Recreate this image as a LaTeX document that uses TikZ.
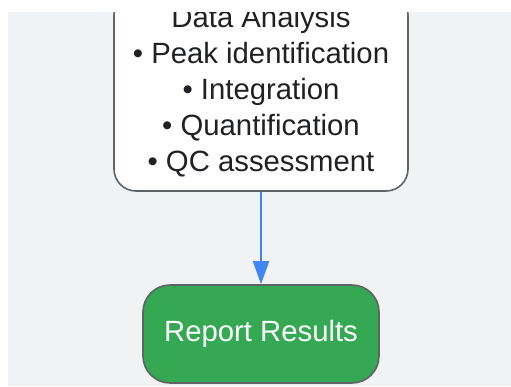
\documentclass[tikz,border=0pt]{standalone}
\usepackage{fontspec}
\setmainfont{Liberation Sans}
\usepackage{xcolor}
\usepackage{tikz}
\usetikzlibrary{shapes.geometric, arrows, arrows.meta, positioning, calc}
\definecolor{bggray}{HTML}{F1F2F4}
\definecolor{edgegray}{HTML}{5F6368}
\definecolor{stepgreen}{HTML}{34A853}
\definecolor{flowblue}{HTML}{4285F4}
\definecolor{textdark}{HTML}{202124}
\tikzstyle{process} = [rectangle, rounded corners=22pt, minimum width=294pt, minimum height=198pt, align=center, draw=edgegray, line width=1.6pt, fill=white, text=textdark, font=\fontsize{29.3}{36}\selectfont]
\tikzstyle{terminal} = [rectangle, rounded corners=27pt, minimum width=236pt, minimum height=98pt, align=center, draw=edgegray, line width=1.6pt, fill=stepgreen, text=white, font=\fontsize{29.3}{36}\selectfont]
\tikzstyle{arrow} = [line width=2pt, flowblue, -{Triangle[width=16pt,length=23pt]}]

\begin{document}
\begin{tikzpicture}[x=1pt,y=-1pt]
      \useasboundingbox (0,0) rectangle (511,386);

      % Background
      \fill[bggray] (8,12) rectangle (511,386);

      \begin{scope}
      \clip (8,12) rectangle (511,386);

      % Data analysis step
      \node[process] (analysis) at (261,92) {
        Data Analysis\\
        • Peak identification\\
        • Integration\\
        • Quantification\\
        • QC assessment
      };

      % Final step
      \node[terminal] (report) at (261,334) {Report Results};

      % Flow
      \draw[arrow] (analysis.south) -- (report.north);
      \end{scope}
    \end{tikzpicture}
\end{document}
